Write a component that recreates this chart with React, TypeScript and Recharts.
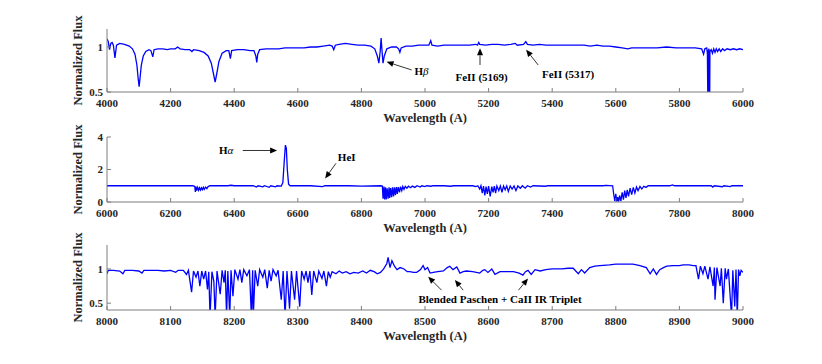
import { LineChart, Line, XAxis, YAxis, ReferenceLine, ReferenceDot } from "recharts";

const FONT = '"Liberation Serif", "Times New Roman", serif';
const AXIS = "#7f7f7f";
const INK = "#262626";
const BLUE = "#0000ff";

// [wavelength (A), normalized flux]
const blueSpectrum: [number, number][] = [
  [4000, 1.09], [4004, 1.06], [4008, 0.97], [4012, 1.04], [4016, 1.05], [4020, 1.02], [4025, 0.88],
  [4030, 1.02], [4040, 1.04], [4055, 1.03], [4070, 1.01], [4080, 0.98], [4088, 0.92], [4094, 0.8],
  [4098, 0.65], [4101, 0.56], [4104, 0.66], [4108, 0.8], [4114, 0.9], [4122, 0.95], [4132, 0.97],
  [4138, 0.96], [4144, 0.89], [4148, 0.97], [4160, 0.98], [4175, 0.98], [4190, 0.97], [4200, 0.98],
  [4215, 0.98], [4222, 1.0], [4230, 0.98], [4245, 0.97], [4260, 0.97], [4267, 0.95], [4272, 0.97],
  [4290, 0.96], [4305, 0.94], [4318, 0.9], [4328, 0.82], [4335, 0.7], [4340, 0.61], [4345, 0.7],
  [4352, 0.84], [4362, 0.93], [4375, 0.96], [4383, 0.96], [4388, 0.87], [4392, 0.96], [4410, 0.97],
  [4430, 0.97], [4450, 0.96], [4462, 0.96], [4468, 0.9], [4471, 0.83], [4474, 0.92], [4480, 0.97],
  [4500, 0.98], [4520, 0.98], [4540, 0.98], [4560, 0.99], [4580, 0.99], [4600, 0.99], [4620, 0.99],
  [4640, 1.0], [4660, 1.0], [4680, 1.01], [4700, 1.02], [4708, 1.01], [4713, 0.97], [4718, 1.02],
  [4730, 1.03], [4750, 1.04], [4770, 1.03], [4790, 1.02], [4810, 1.02], [4830, 1.01], [4842, 0.98],
  [4850, 0.9], [4855, 0.82], [4859, 0.95], [4862, 1.1], [4865, 0.95], [4868, 0.82], [4872, 0.9],
  [4880, 0.98], [4895, 1.0], [4910, 1.0], [4917, 0.98], [4921, 0.94], [4925, 0.99], [4940, 1.01],
  [4960, 1.01], [4980, 1.02], [5000, 1.02], [5012, 1.02], [5018, 1.07], [5022, 1.02], [5040, 1.01],
  [5060, 1.02], [5080, 1.02], [5100, 1.02], [5120, 1.02], [5140, 1.02], [5160, 1.03], [5165, 1.02],
  [5169, 1.05], [5172, 1.03], [5190, 1.02], [5210, 1.03], [5230, 1.03], [5250, 1.02], [5270, 1.03],
  [5284, 1.04], [5290, 1.02], [5310, 1.03], [5317, 1.06], [5322, 1.03], [5340, 1.02], [5360, 1.03],
  [5380, 1.02], [5400, 1.02], [5420, 1.02], [5440, 1.02], [5460, 1.02], [5480, 1.02], [5500, 1.02],
  [5520, 1.01], [5540, 1.02], [5560, 1.01], [5580, 1.01], [5600, 1.0], [5620, 0.99], [5638, 0.98],
  [5650, 0.99], [5670, 0.99], [5700, 0.99], [5730, 0.99], [5760, 1.0], [5790, 0.99], [5820, 0.99],
  [5850, 0.99], [5870, 0.98], [5876, 0.92], [5880, 0.98], [5886, 0.99], [5888, 0.93], [5890, 0.2],
  [5891, 0.96], [5893, 0.98], [5895, 0.2], [5896, 0.95], [5900, 0.97], [5904, 0.93], [5908, 0.98],
  [5912, 0.94], [5916, 0.98], [5920, 0.95], [5925, 0.98], [5930, 0.95], [5936, 0.98], [5942, 0.96],
  [5950, 0.98], [5960, 0.97], [5970, 0.98], [5980, 0.97], [5990, 0.98], [6000, 0.97],
];

const redSpectrum: [number, number][] = [
  [6000, 1.0], [6100, 1.0], [6200, 1.0], [6270, 1.0], [6276, 0.95], [6278, 0.62], [6280, 0.95],
  [6282, 0.7], [6285, 0.9], [6288, 0.72], [6291, 0.88], [6294, 0.74], [6297, 0.88], [6300, 0.76],
  [6303, 0.9], [6306, 0.78], [6310, 0.92], [6314, 0.82], [6318, 0.95], [6324, 1.0], [6380, 1.0],
  [6390, 1.03], [6400, 1.0], [6460, 1.0], [6470, 0.92], [6475, 1.0], [6490, 0.93], [6495, 1.0],
  [6510, 0.9], [6515, 1.0], [6530, 0.93], [6535, 1.0], [6548, 0.98], [6553, 1.2], [6557, 2.4],
  [6561, 3.5], [6564, 3.3], [6567, 2.0], [6571, 1.1], [6576, 1.0], [6600, 1.0], [6640, 1.0],
  [6678, 0.95], [6685, 1.0], [6760, 1.0], [6800, 0.98], [6860, 1.0], [6866, 0.98], [6868, 0.2],
  [6871, 0.95], [6873, 0.15], [6876, 0.9], [6878, 0.15], [6881, 0.85], [6884, 0.2], [6887, 0.9],
  [6889, 0.25], [6892, 0.85], [6895, 0.3], [6898, 0.9], [6901, 0.35], [6904, 0.9], [6907, 0.42],
  [6910, 0.92], [6913, 0.5], [6916, 0.92], [6920, 0.6], [6923, 0.94], [6927, 0.7], [6930, 0.95],
  [6934, 0.78], [6938, 0.96], [6943, 0.85], [6948, 0.97], [6955, 0.88], [6960, 0.98], [6968, 0.9],
  [6975, 1.0], [6985, 0.92], [6990, 1.0], [7000, 0.95], [7005, 1.0], [7020, 0.97], [7025, 1.0],
  [7060, 1.0], [7080, 0.97], [7090, 1.0], [7120, 1.0], [7150, 1.0], [7160, 0.95], [7166, 1.0],
  [7172, 0.8], [7176, 1.0], [7180, 0.55], [7184, 0.98], [7188, 0.4], [7192, 0.95], [7196, 0.5],
  [7200, 0.98], [7205, 0.35], [7210, 0.95], [7214, 0.6], [7218, 0.97], [7222, 0.55], [7226, 0.98],
  [7232, 0.7], [7237, 0.98], [7242, 0.6], [7247, 0.98], [7252, 0.75], [7257, 0.99], [7262, 0.65],
  [7268, 0.98], [7274, 0.8], [7280, 0.99], [7286, 0.7], [7292, 0.99], [7300, 0.85], [7306, 1.0],
  [7315, 0.85], [7322, 1.0], [7332, 0.92], [7340, 1.0], [7380, 0.97], [7385, 1.0], [7500, 1.0],
  [7560, 1.0], [7570, 1.02], [7590, 1.0], [7594, 0.4], [7597, 0.05], [7600, 0.5], [7603, 0.02],
  [7606, 0.3], [7609, 0.02], [7612, 0.4], [7616, 0.05], [7620, 0.6], [7624, 0.15], [7628, 0.7],
  [7632, 0.25], [7636, 0.75], [7640, 0.35], [7645, 0.85], [7650, 0.45], [7655, 0.9], [7660, 0.55],
  [7665, 0.92], [7670, 0.7], [7676, 0.95], [7682, 0.8], [7688, 0.97], [7695, 0.9], [7702, 1.0],
  [7770, 1.0], [7778, 1.05], [7785, 1.0], [7900, 1.0], [7905, 0.92], [7910, 1.0], [7935, 0.94],
  [7940, 1.0], [7960, 0.95], [7965, 1.0], [8000, 1.0],
];

const irSpectrum: [number, number][] = [
  [8000, 0.93], [8002, 0.98], [8010, 0.98], [8020, 0.97], [8025, 0.93], [8028, 0.98], [8040, 0.98],
  [8050, 0.97], [8055, 0.94], [8058, 0.98], [8070, 0.98], [8080, 0.98], [8090, 0.97], [8100, 0.98],
  [8108, 0.95], [8112, 0.98], [8120, 0.98], [8125, 0.92], [8128, 0.98], [8133, 0.66], [8136, 0.97],
  [8140, 0.88], [8143, 0.97], [8146, 0.75], [8149, 0.97], [8152, 0.85], [8155, 0.97], [8158, 0.7],
  [8160, 0.96], [8162, 0.3], [8165, 0.96], [8168, 0.82], [8170, 0.3], [8173, 0.97], [8178, 0.63],
  [8181, 0.98], [8184, 0.8], [8186, 0.98], [8188, 0.3], [8190, 0.97], [8193, 0.3], [8195, 0.98],
  [8198, 0.6], [8201, 0.99], [8206, 0.85], [8209, 0.99], [8212, 0.8], [8215, 0.99], [8220, 0.9],
  [8224, 0.99], [8227, 0.3], [8229, 0.98], [8230, 0.3], [8233, 0.98], [8237, 0.75], [8240, 0.99],
  [8245, 0.88], [8248, 0.99], [8252, 0.72], [8255, 0.98], [8258, 0.82], [8261, 0.99], [8266, 0.9],
  [8269, 0.98], [8274, 0.55], [8277, 0.97], [8280, 0.3], [8283, 0.97], [8287, 0.42], [8290, 0.97],
  [8295, 0.55], [8298, 0.97], [8303, 0.45], [8306, 0.97], [8310, 0.85], [8313, 0.97], [8316, 0.8],
  [8319, 0.97], [8322, 0.62], [8325, 0.97], [8330, 0.8], [8333, 0.97], [8338, 0.86], [8341, 0.97],
  [8345, 0.75], [8348, 0.96], [8351, 0.88], [8354, 0.96], [8360, 0.93], [8365, 0.97], [8370, 0.94],
  [8376, 0.96], [8382, 0.93], [8388, 0.95], [8395, 0.94], [8402, 0.97], [8408, 0.94], [8414, 0.98],
  [8420, 0.96], [8425, 0.93], [8430, 0.95], [8435, 1.0], [8440, 1.08], [8442, 1.17], [8445, 1.02],
  [8448, 1.12], [8452, 1.04], [8456, 0.99], [8461, 1.02], [8467, 1.0], [8472, 0.96], [8476, 0.96],
  [8482, 0.95], [8487, 0.95], [8493, 0.99], [8497, 1.05], [8500, 0.99], [8504, 1.02], [8508, 0.94],
  [8513, 0.95], [8520, 0.96], [8529, 0.97], [8535, 1.02], [8539, 1.04], [8544, 0.99], [8550, 1.03],
  [8555, 0.94], [8560, 0.96], [8565, 0.97], [8575, 0.96], [8586, 0.94], [8591, 0.98], [8594, 0.99],
  [8599, 0.95], [8605, 1.0], [8610, 0.92], [8618, 0.96], [8630, 0.96], [8639, 0.96], [8648, 0.94],
  [8654, 0.91], [8658, 0.96], [8662, 0.98], [8667, 0.92], [8673, 0.99], [8681, 0.97], [8690, 0.99],
  [8700, 1.0], [8715, 1.0], [8725, 1.01], [8733, 1.01], [8741, 0.93], [8746, 0.99], [8751, 0.94],
  [8759, 1.02], [8767, 1.04], [8775, 1.05], [8790, 1.06], [8800, 1.07], [8815, 1.07], [8827, 1.07],
  [8838, 1.05], [8848, 1.02], [8854, 0.93], [8859, 1.0], [8864, 0.92], [8869, 0.99], [8875, 1.02],
  [8880, 1.04], [8890, 1.05], [8900, 1.05], [8906, 1.06], [8915, 1.06], [8922, 1.05], [8926, 1.05],
  [8930, 0.85], [8933, 1.04], [8937, 0.93], [8940, 1.04], [8945, 0.85], [8948, 1.03], [8953, 0.75],
  [8955, 1.02], [8956, 0.55], [8959, 1.02], [8964, 0.75], [8966, 1.01], [8969, 0.5], [8972, 1.01],
  [8974, 0.85], [8977, 1.0], [8982, 0.3], [8984, 0.98], [8987, 0.45], [8989, 0.99], [8991, 0.3],
  [8993, 0.99], [8995, 0.9], [8997, 0.98], [9000, 0.95],
];

const blueTicks = [4000, 4200, 4400, 4600, 4800, 5000, 5200, 5400, 5600, 5800, 6000];
const redTicks = [6000, 6200, 6400, 6600, 6800, 7000, 7200, 7400, 7600, 7800, 8000];
const irTicks = [8000, 8100, 8200, 8300, 8400, 8500, 8600, 8700, 8800, 8900, 9000];

type Note = { text: string; greek?: string; x: number; y: number; anchor: "start" | "middle" };
type Pointer = { from: [number, number]; to: [number, number] };

const blueNotes: Note[] = [
  { text: "H", greek: "β", x: 4967, y: 0.735, anchor: "start" },
  { text: "FeII (5169)", x: 5178, y: 0.665, anchor: "middle" },
  { text: "FeII (5317)", x: 5368, y: 0.695, anchor: "start" },
];
const bluePointers: Pointer[] = [
  { from: [4958, 0.745], to: [4879, 0.835] },
  { from: [5173, 0.8], to: [5173, 0.985] },
  { from: [5356, 0.8], to: [5318, 0.97] },
];

const redNotes: Note[] = [
  { text: "H", greek: "α", x: 6352, y: 3.17, anchor: "start" },
  { text: "HeI", x: 6726, y: 2.76, anchor: "start" },
];
const redPointers: Pointer[] = [
  { from: [6427, 3.17], to: [6535, 3.17] },
  { from: [6720, 2.38], to: [6686, 1.45] },
];

const irNotes: Note[] = [
  { text: "Blended Paschen + CaII IR Triplet", x: 8618, y: 0.56, anchor: "middle" },
];
const irPointers: Pointer[] = [
  { from: [8526, 0.69], to: [8505, 0.886] },
  { from: [8560, 0.69], to: [8547, 0.84] },
  { from: [8647, 0.69], to: [8662, 0.86] },
];

function Arrow(props: any) {
  const { x1, y1, x2, y2 } = props;
  const dx = x2 - x1;
  const dy = y2 - y1;
  const len = Math.hypot(dx, dy) || 1;
  const ux = dx / len;
  const uy = dy / len;
  const hl = 7;
  const hw = 3;
  const bx = x2 - ux * hl;
  const by = y2 - uy * hl;
  const pts = `${x2},${y2} ${bx - uy * hw},${by + ux * hw} ${bx + uy * hw},${by - ux * hw}`;
  return (
    <g>
      <line x1={x1} y1={y1} x2={bx} y2={by} stroke="#000" strokeWidth={0.8} />
      <polygon points={pts} fill="#000" />
    </g>
  );
}

function noteShape(note: Note) {
  return (p: any) => (
    <text
      x={p.cx}
      y={p.cy}
      dy="0.35em"
      textAnchor={note.anchor}
      fontFamily={FONT}
      fontWeight="bold"
      fontSize={11}
      fill="#000"
    >
      {note.text}
      {note.greek && (
        <tspan fontStyle="italic" fontWeight="normal">
          {note.greek}
        </tspan>
      )}
    </text>
  );
}

const tickStyle = { fontFamily: FONT, fontWeight: "bold", fontSize: 11, fill: INK };
const labelStyle = { fontFamily: FONT, fontWeight: "bold", fontSize: 12.5, fill: INK };

type PanelProps = {
  spectrum: [number, number][];
  xDomain: [number, number];
  xTicks: number[];
  yDomain: [number, number];
  yTicks: number[];
  top: number;
  marginTop: number;
  plotHeight: number;
  notes: Note[];
  pointers: Pointer[];
};

function Panel(props: PanelProps) {
  const { spectrum, xDomain, xTicks, yDomain, yTicks, top, marginTop, plotHeight, notes, pointers } = props;
  const data = spectrum.map(([w, f]) => ({ w, f }));
  const height = marginTop + plotHeight + 30 + 6;
  return (
    <div style={{ position: "absolute", left: 0, top }}>
      <LineChart width={822} height={height} data={data} margin={{ top: marginTop, right: 79, bottom: 6, left: 49 }}>
        <XAxis
          dataKey="w"
          type="number"
          domain={xDomain}
          ticks={xTicks}
          interval={0}
          allowDataOverflow
          height={30}
          tickSize={-4}
          tickMargin={11}
          tick={tickStyle}
          stroke={AXIS}
          label={{ value: "Wavelength (A)", position: "insideBottom", offset: 0, ...labelStyle }}
        />
        <XAxis
          xAxisId="top"
          orientation="top"
          dataKey="w"
          type="number"
          domain={xDomain}
          ticks={xTicks}
          interval={0}
          allowDataOverflow
          height={0}
          tickSize={-4}
          tick={false}
          stroke={AXIS}
        />
        <YAxis
          type="number"
          domain={yDomain}
          ticks={yTicks}
          interval={0}
          allowDataOverflow
          width={58}
          tickSize={-4}
          tickMargin={8}
          tick={tickStyle}
          tickFormatter={(v: number) => String(v)}
          stroke={AXIS}
          label={{ value: "Normalized Flux", angle: -90, position: "center", ...labelStyle }}
        />
        <YAxis
          yAxisId="right"
          orientation="right"
          type="number"
          domain={yDomain}
          ticks={yTicks}
          interval={0}
          allowDataOverflow
          width={0}
          tickSize={-4}
          tick={false}
          stroke={AXIS}
        />
        <Line
          type="linear"
          dataKey="f"
          stroke={BLUE}
          strokeWidth={1.3}
          dot={false}
          isAnimationActive={false}
        />
        {pointers.map((p, i) => (
          <ReferenceLine
            key={"p" + i}
            segment={[
              { x: p.from[0], y: p.from[1] },
              { x: p.to[0], y: p.to[1] },
            ]}
            ifOverflow="visible"
            shape={Arrow}
          />
        ))}
        {notes.map((n, i) => (
          <ReferenceDot key={"n" + i} x={n.x} y={n.y} r={1} ifOverflow="visible" shape={noteShape(n)} />
        ))}
      </LineChart>
    </div>
  );
}

export default function App() {
  return (
    <div style={{ position: "absolute", left: 0, top: 0, width: 822, height: 364, background: "#fff" }}>
      <Panel
        spectrum={blueSpectrum}
        xDomain={[4000, 6000]}
        xTicks={blueTicks}
        yDomain={[0.5, 1.2]}
        yTicks={[0.5, 1]}
        top={0}
        marginTop={29}
        plotHeight={63}
        notes={blueNotes}
        pointers={bluePointers}
      />
      <Panel
        spectrum={redSpectrum}
        xDomain={[6000, 8000]}
        xTicks={redTicks}
        yDomain={[0, 4]}
        yTicks={[0, 2, 4]}
        top={122}
        marginTop={15}
        plotHeight={65}
        notes={redNotes}
        pointers={redPointers}
      />
      <Panel
        spectrum={irSpectrum}
        xDomain={[8000, 9000]}
        xTicks={irTicks}
        yDomain={[0.4, 1.35]}
        yTicks={[0.5, 1]}
        top={232}
        marginTop={13}
        plotHeight={65}
        notes={irNotes}
        pointers={irPointers}
      />
    </div>
  );
}
